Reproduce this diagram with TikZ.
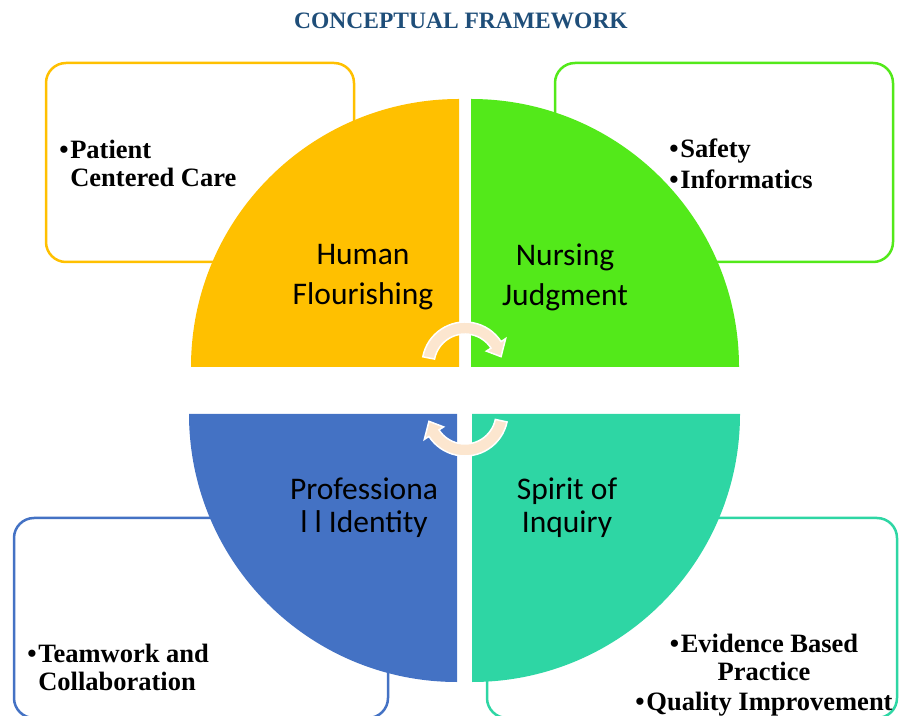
\documentclass[tikz,border=0pt]{standalone}
\usepackage{fontspec}
\setmainfont{Liberation Serif}
\newfontfamily\topicfont{Carlito}
\usetikzlibrary{positioning, calc}
\definecolor{hfyellow}{HTML}{FFC000}
\definecolor{njgreen}{RGB}{83,233,26}
\definecolor{piblue}{HTML}{4472C4}
\definecolor{sqteal}{RGB}{46,214,164}
\definecolor{cyclepeach}{RGB}{252,230,207}
\definecolor{titleblue}{RGB}{31,78,121}

\begin{document}
\begin{tikzpicture}[x=1pt, y=1pt, semithick,
    itembox/.style={line width=2.5pt, rounded corners=20pt, fill=white},
    items/.style={font=\bfseries\fontsize{26.5}{28}\selectfont, inner sep=0pt, anchor=north west, align=left},
    topic/.style={font=\topicfont\fontsize{31.5}{40}\selectfont, inner sep=0pt, anchor=north, align=center},
    cyclearrow/.style={fill=cyclepeach, draw=white, line width=1.5pt}]
    \useasboundingbox (0,0) rectangle (899,715);
    \def\rad{268pt}\def\bul{\makebox[11pt][l]{\textbullet}}
    % boxes behind the circle
    \draw[itembox, draw=hfyellow] (46,652) rectangle (354,453);
    \draw[itembox, draw=njgreen] (555,652) rectangle (893,453);
    \draw[itembox, draw=piblue] (14,197) rectangle (388,-3);
    \draw[itembox, draw=sqteal] (487,197) rectangle (897,-3);
    % quarters
    \fill[hfyellow] (459,348) -- ++(-\rad,0) arc[start angle=180, end angle=90, radius=\rad] -- cycle;
    \fill[njgreen] (471,348) -- ++(0,\rad) arc[start angle=90, end angle=0, radius=\rad] -- cycle;
    \fill[piblue] (457,301) -- ++(-\rad,0) arc[start angle=180, end angle=270, radius=\rad] -- cycle;
    \fill[sqteal] (472,301) -- ++(\rad,0) arc[start angle=0, end angle=-90, radius=\rad] -- cycle;
    % texts
    \node[font=\bfseries\fontsize{23.5}{26}\selectfont, text=titleblue, anchor=base] (title) at (461,686) {CONCEPTUAL FRAMEWORK};
    \node[topic] (human) at (363,471) {Human\\Flourishing};
    \node[topic] (nursing) at (565,471) {Nursing\\Judgment};
    \node[topic, font=\topicfont\fontsize{31.5}{32.5}\selectfont] (prof) at (364,237) {Professiona\\l l Identity};
    \node[topic, font=\topicfont\fontsize{31.5}{32.5}\selectfont] (spirit) at (567,237) {Spirit of\\Inquiry};
    \node[items] (pcc) at (59,575) {\bul Patient\\\hspace*{11pt}Centered Care};
    \node[items] (safety) at (669,576) {\bul Safety\\[3pt]\bul Informatics};
    \node[items] (team) at (27,71) {\bul Teamwork and\\\hspace*{11pt}Collaboration};
    \node[items, anchor=north, align=center] (ebp) at (764,81) {\bul Evidence Based\\Practice\\[2pt]\bul Quality Improvement};
    % cycle arrows
    \begin{scope}[shift={(465,350)}]
        \draw[cyclearrow] (169:43pt) arc[start angle=169, end angle=33, radius=43pt] -- (33:48.5pt) -- (13:37pt) -- (33:25.5pt) -- (33:31pt) arc[start angle=33, end angle=169, radius=31pt] -- cycle;
    \end{scope}
    \begin{scope}[shift={(465,302)}]
        \draw[cyclearrow] (-12:43pt) arc[start angle=-12, end angle=-147, radius=43pt] -- (-147:48.5pt) -- (-167:37pt) -- (-147:25.5pt) -- (-147:31pt) arc[start angle=-147, end angle=-12, radius=31pt] -- cycle;
    \end{scope}
\end{tikzpicture}
\end{document}
